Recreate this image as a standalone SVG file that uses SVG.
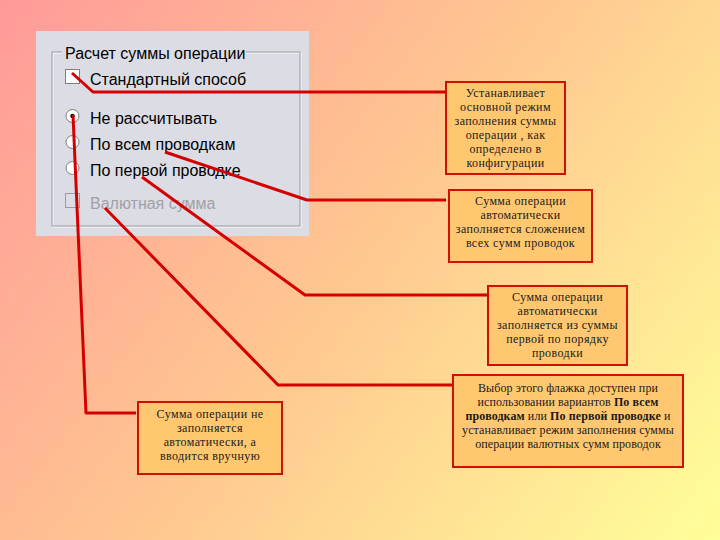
<svg xmlns="http://www.w3.org/2000/svg" width="720" height="540" viewBox="0 0 720 540">
<defs>
<linearGradient id="bg" x1="0" y1="0" x2="720" y2="540" gradientUnits="userSpaceOnUse">
<stop offset="0" stop-color="#ff9a9a"/>
<stop offset="0.5" stop-color="#ffc890"/>
<stop offset="1" stop-color="#ffff99"/>
</linearGradient>
<style>
.ui{font-family:"Liberation Sans","DejaVu Sans",sans-serif;font-size:16px;fill:#000}
.box{fill:#ffc870;stroke:#d01000;stroke-width:2}
.t{font-family:"Liberation Serif","DejaVu Serif",serif;font-size:12px;fill:#1a1a1a;text-anchor:middle;letter-spacing:0.4px}
.w{letter-spacing:0.1px}
.b{font-weight:bold}
.con{fill:none;stroke:#d40000;stroke-width:3;stroke-linejoin:round}
</style>
</defs>
<rect width="720" height="540" fill="url(#bg)"/>
<g id="panel">
<rect x="36" y="31" width="273" height="205" fill="#dcdde4"/>
<rect x="53" y="53" width="248" height="174" fill="none" stroke="#ffffff" stroke-width="1"/>
<rect x="52" y="52" width="248" height="174" fill="none" stroke="#9a9aa0" stroke-width="1"/>
<rect x="62" y="42" width="184" height="18" fill="#dcdde4"/>
<text class="ui" x="65" y="59">Расчет суммы операции</text>
<rect x="65.5" y="69.5" width="14" height="14" fill="#ffffff" stroke="#808080"/>
<text class="ui" x="90" y="85">Стандартный способ</text>
<circle cx="72.5" cy="116" r="6.5" fill="#ffffff" stroke="#808080"/>
<circle cx="72.5" cy="116" r="2.2" fill="#000"/>
<text class="ui" x="90" y="124">Не рассчитывать</text>
<circle cx="72.5" cy="142" r="6.5" fill="#ffffff" stroke="#808080"/>
<text class="ui" x="90" y="150">По всем проводкам</text>
<circle cx="72.5" cy="168" r="6.5" fill="#ffffff" stroke="#808080"/>
<text class="ui" x="90" y="176">По первой проводке</text>
<rect x="65.5" y="193.5" width="14" height="14" fill="#dcdde4" stroke="#9a9aa0"/>
<text class="ui" x="90" y="209" style="fill:#a0a0a8">Валютная сумма</text>
</g>
<g id="connectors">
<polyline class="con" points="72,73 93,92 447,92"/>
<polyline class="con" points="165,152 307,200 446,200"/>
<polyline class="con" points="142,177 305,295 487,295"/>
<polyline class="con" points="105,208 278,385 452,385"/>
<polyline class="con" points="73,115 86,413 136,413"/>
</g>
<g id="n1">
<rect class="box" x="446" y="82" width="119" height="92"/>
<text class="t" x="505.5" y="97">Устанавливает</text>
<text class="t" x="505.5" y="111">основной режим</text>
<text class="t" x="505.5" y="125">заполнения суммы</text>
<text class="t" x="505.5" y="139">операции , как</text>
<text class="t" x="505.5" y="153">определено в</text>
<text class="t" x="505.5" y="167">конфигурации</text>
</g>
<g id="n2">
<rect class="box" x="449" y="190" width="143" height="72"/>
<text class="t" x="520.5" y="205">Сумма операции</text>
<text class="t" x="520.5" y="219">автоматически</text>
<text class="t" x="520.5" y="233">заполняется сложением</text>
<text class="t" x="520.5" y="247">всех сумм проводок</text>
</g>
<g id="n3">
<rect class="box" x="488" y="286" width="139" height="79"/>
<text class="t" x="557.5" y="301">Сумма операции</text>
<text class="t" x="557.5" y="315">автоматически</text>
<text class="t" x="557.5" y="329">заполняется из суммы</text>
<text class="t" x="557.5" y="343">первой по порядку</text>
<text class="t" x="557.5" y="357">проводки</text>
</g>
<g id="n4">
<rect class="box" x="453" y="375" width="230" height="92"/>
<text class="t w" x="568" y="392">Выбор этого флажка доступен при</text>
<text class="t w" x="568" y="406">использовании вариантов <tspan class="b">По всем</tspan></text>
<text class="t w" x="568" y="420"><tspan class="b">проводкам</tspan> или <tspan class="b">По первой проводке</tspan> и</text>
<text class="t w" x="568" y="434">устанавливает режим заполнения суммы</text>
<text class="t w" x="568" y="448">операции валютных сумм проводок</text>
</g>
<g id="n5">
<rect class="box" x="138" y="402" width="144" height="72"/>
<text class="t" x="210" y="418">Сумма операции не</text>
<text class="t" x="210" y="432">заполняется</text>
<text class="t" x="210" y="446">автоматически, а</text>
<text class="t" x="210" y="460">вводится вручную</text>
</g>
</svg>
